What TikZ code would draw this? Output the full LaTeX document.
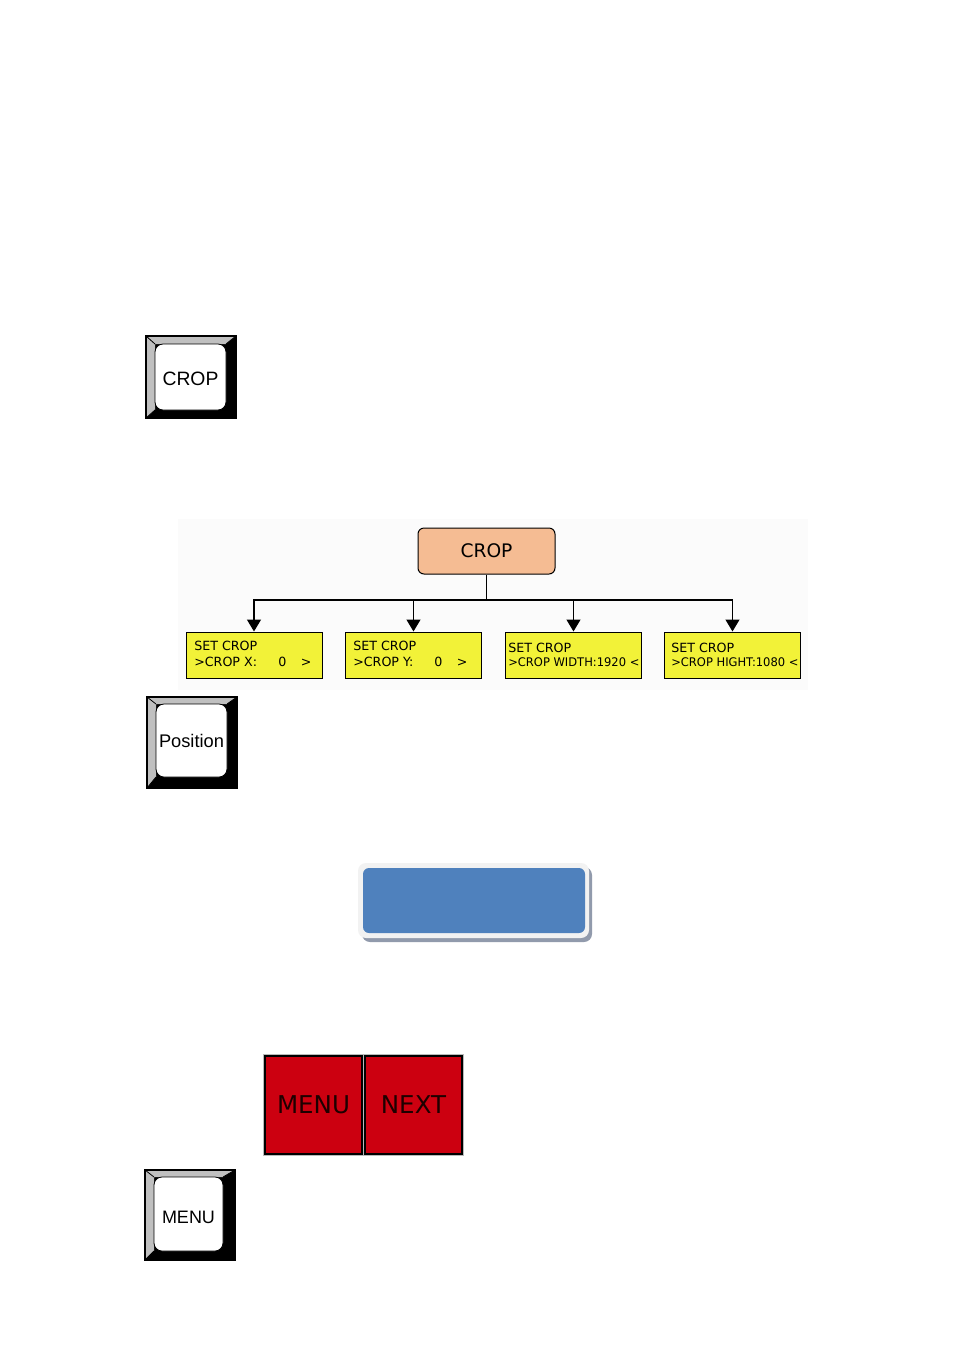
\documentclass[tikz,border=0pt]{standalone}
\usepackage{fontspec}
\setmainfont{Liberation Sans}
\newfontfamily\vfont{DejaVu Sans}
\newfontfamily\vcond{DejaVu Sans}[FakeStretch=0.97]
\usetikzlibrary{arrows.meta}
\definecolor{keygray}{RGB}{192,192,192}
\definecolor{peach}{RGB}{245,188,147}
\definecolor{ylw}{RGB}{242,242,56}
\definecolor{bluefill}{RGB}{79,129,189}
\definecolor{blueedge}{RGB}{242,242,242}
\definecolor{blueshadow}{RGB}{145,154,172}
\definecolor{redfill}{RGB}{204,0,16}
\definecolor{redtext}{RGB}{30,0,0}
\newcommand\keybtn[7]{%
 \coordinate (#1A) at (#2); \coordinate (#1B) at (#3);
 \coordinate (#1a) at (#4); \coordinate (#1b) at (#5);
 \fill[black] (#1A) rectangle (#1B);
 \fill[keygray] (#1A) -- (#1A -| #1B) -- (#1a -| #1b) -- (#1a) -- (#1a |- #1b) -- (#1A |- #1B) -- cycle;
 \draw[black,line width=0.6pt] (#1A) -- (#1a) (#1A -| #1B) -- (#1a -| #1b) (#1A |- #1B) -- (#1a |- #1b);
 \draw[black,line width=1pt] (#1A) rectangle (#1B);
 \draw[black,fill=white,line width=0.6pt,rounded corners=6pt] (#1a) rectangle (#1b);
 \path (#1a) -- (#1b) node[midway,keytext,yshift=#7] (#1) {#6};
}
\begin{document}
\begin{tikzpicture}[x=0.75pt,y=-0.75pt,
  keytext/.style={inner sep=0pt,text=black},
  rootbox/.style={draw=black,fill=peach,rounded corners=4.5pt,line width=0.75pt,
    minimum width=102.75pt,minimum height=34.5pt,inner sep=0pt,
    font=\vfont\fontsize{14}{16}\selectfont},
  ybox/.style={draw=black,fill=ylw,line width=0.75pt,minimum width=102pt,minimum height=34.5pt,inner sep=0pt},
  ytext/.style={anchor=base west,inner sep=0pt,font=\vfont\fontsize{9.5}{11}\selectfont},
  ytextc/.style={anchor=base west,inner sep=0pt,font=\vcond\fontsize{8.9}{10}\selectfont},
  conn/.style={draw=black,line width=0.9pt},
  arr/.style={conn,-{Triangle[width=10.5pt,length=9pt]}},
  redbox/.style={draw=black,fill=redfill,line width=1.5pt,minimum width=72.75pt,minimum height=73.5pt,
    inner sep=0pt,text=redtext,font=\vfont\fontsize{18.4}{20}\selectfont}
]
\useasboundingbox (0,0) rectangle (955,1350);
\fill[white] (0,0) rectangle (955,1350);

% keys
\keybtn{kcrop}{146,336}{236,418}{155,344}{226,410}{\fontsize{14.5}{17}\selectfont CROP}{-1.5pt}
\keybtn{kpos}{147,697}{237,788}{156,704}{227,777}{\fontsize{13.7}{16}\selectfont Position}{0pt}
\keybtn{kmenu}{145,1170}{235,1260}{154,1177}{223,1251}{\fontsize{13.5}{16}\selectfont MENU}{-2.5pt}

% chart
\fill[gray!3] (178,519) rectangle (808,690);
\node[rootbox] (root) at (486.5,551) {CROP};
\node[ybox] (b1) at (254,655) {};
\node[ybox] (b2) at (413.5,655) {};
\node[ybox] (b3) at (573.5,655) {};
\node[ybox] (b4) at (732.5,655) {};
\coordinate (bus) at (486.5,600);
\draw[conn] (root.south) -- (bus);
\draw[arr] (bus) -| (b1.north);
\draw[arr] (bus) -| (b2.north);
\draw[arr] (bus) -| (b3.north);
\draw[arr] (bus) -| (b4.north);

\node[ytext] (t1a) at (194,650.5) {SET CROP};
\node[ytext] (t1b) at (194,666.5) {\makebox[63pt][l]{>CROP X:}0\hspace{11pt}>};
\node[ytext] (t2a) at (353,650.5) {SET CROP};
\node[ytext] (t2b) at (353,666.5) {\makebox[60.75pt][l]{>CROP Y:}0\hspace{11pt}>};
\node[ytext] (t3a) at (508,652.5) {SET CROP};
\node[ytextc] (t3b) at (508,666.5) {>CROP WIDTH:1920 <};
\node[ytext] (t4a) at (671,652.5) {SET CROP};
\node[ytextc] (t4b) at (671,666.5) {>CROP HIGHT:1080 <};

% blue button
\fill[blueshadow,rounded corners=6pt] (362,867) rectangle (592,942);
\fill[blueedge,rounded corners=6pt] (358,863) rectangle (589,938);
\fill[bluefill,rounded corners=4.5pt] (363,868) rectangle (585,933);

% red buttons
\fill[gray!55] (263,1054) rectangle (464,1156);
\node[redbox] (menu) at (313.5,1105) {MENU};
\node[redbox] (next) at (413.5,1105) {NEXT};
\end{tikzpicture}
\end{document}
